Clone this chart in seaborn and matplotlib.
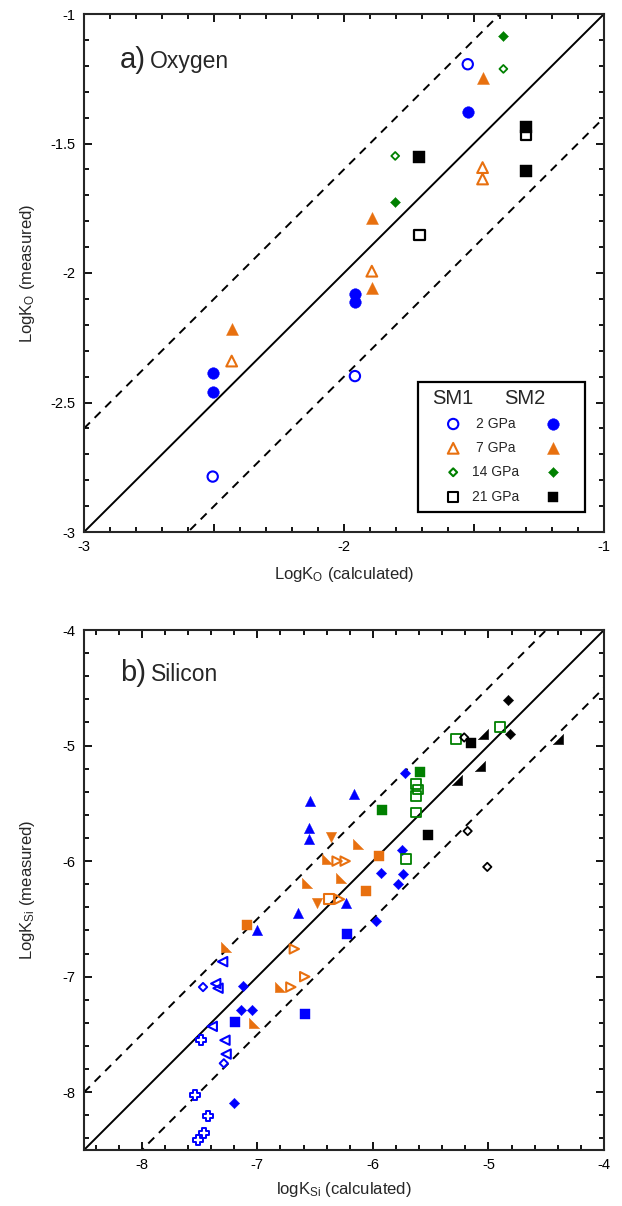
import numpy as np
import matplotlib
matplotlib.use("Agg")
import matplotlib.pyplot as plt
import seaborn as sns
from matplotlib.ticker import MultipleLocator, FuncFormatter
from matplotlib.patches import Rectangle

sns.set_style("ticks")
plt.rcParams["font.family"] = ["Liberation Sans", "DejaVu Sans"]
plt.rcParams["mathtext.fontset"] = "custom"
plt.rcParams["mathtext.rm"] = "Liberation Sans"
plt.rcParams["mathtext.it"] = "Liberation Sans:italic"
plt.rcParams["axes.unicode_minus"] = False

BLUE = "#0000FF"
ORANGE = "#E8700F"
GREEN = "#008000"
BLACK = "#000000"

# ---------------- Panel a data (Oxygen) ----------------
a_sm1_2gpa_x = [-1.524, -1.958, -2.505]
a_sm1_2gpa_y = [-1.194, -2.398, -2.786]
a_sm1_7gpa_x = [-1.467, -1.467, -1.893, -2.432]
a_sm1_7gpa_y = [-1.593, -1.637, -1.993, -2.340]
a_sm1_14gpa_x = [-1.387, -1.803]
a_sm1_14gpa_y = [-1.212, -1.548]
a_sm1_21gpa_x = [-1.300, -1.710]
a_sm1_21gpa_y = [-1.468, -1.852]

a_sm2_2gpa_x = [-1.524, -1.958, -1.958, -2.505, -2.505]
a_sm2_2gpa_y = [-1.378, -2.082, -2.111, -2.385, -2.458]
a_sm2_7gpa_x = [-1.467, -1.893, -1.893, -2.432]
a_sm2_7gpa_y = [-1.246, -1.789, -2.059, -2.216]
a_sm2_14gpa_x = [-1.387, -1.803]
a_sm2_14gpa_y = [-1.085, -1.725]
a_sm2_21gpa_x = [-1.300, -1.300, -1.710]
a_sm2_21gpa_y = [-1.435, -1.606, -1.551]

legend_labels = ["2 GPa", "7 GPa", "14 GPa", "21 GPa"]

# ---------------- Panel b data (Silicon) ----------------
b_blue_tri_x = [-6.54, -6.55, -6.55, -6.16, -6.23, -6.65, -7.00]
b_blue_tri_y = [-5.48, -5.71, -5.81, -5.42, -6.36, -6.45, -6.60]
b_blue_dia_x = [-5.72, -5.75, -5.93, -5.74, -5.78, -5.97, -7.12, -7.14, -7.05, -7.20]
b_blue_dia_y = [-5.24, -5.90, -6.10, -6.11, -6.20, -6.52, -7.08, -7.29, -7.29, -8.09]
b_blue_sq_x = [-6.22, -6.59, -7.19]
b_blue_sq_y = [-6.63, -7.32, -7.39]
b_blue_ltri_x = [-7.30, -7.36, -7.34, -7.39, -7.28, -7.27]
b_blue_ltri_y = [-6.87, -7.06, -7.10, -7.43, -7.55, -7.67]
b_blue_odia_x = [-7.47, -7.29]
b_blue_odia_y = [-7.09, -7.75]
b_blue_plus_x = [-7.49, -7.54, -7.43, -7.46, -7.51]
b_blue_plus_y = [-7.55, -8.02, -8.21, -8.35, -8.41]
b_blue_x_x = [-7.54]
b_blue_x_y = [-6.89]

b_or_plus_x = [-7.49]
b_or_plus_y = [-6.73]
b_or_rtri_x = [-7.27, -6.80, -7.03, -6.57, -6.40, -6.28, -6.13]
b_or_rtri_y = [-6.74, -7.09, -7.40, -6.19, -5.98, -6.15, -5.85]
b_or_dtri_x = [-6.36, -6.48]
b_or_dtri_y = [-5.79, -6.36]
b_or_sq_x = [-7.09, -6.06, -5.95]
b_or_sq_y = [-6.55, -6.26, -5.96]
b_or_otri_x = [-6.31, -6.24, -6.29, -6.68, -6.71, -6.59]
b_or_otri_y = [-6.00, -6.00, -6.33, -6.76, -7.09, -7.00]
b_or_osq_x = [-6.38]
b_or_osq_y = [-6.33]

b_gr_sq_x = [-5.59, -5.92]
b_gr_sq_y = [-5.23, -5.56]
b_gr_osq_x = [-5.28, -5.63, -5.61, -5.63, -5.63]
b_gr_osq_y = [-4.94, -5.33, -5.38, -5.44, -5.58]
b_gr_xsq_x = [-4.90, -5.71]
b_gr_xsq_y = [-4.84, -5.98]

b_bk_dia_x = [-4.83, -4.81]
b_bk_dia_y = [-4.61, -4.90]
b_bk_odia_x = [-5.21, -5.18, -5.01]
b_bk_odia_y = [-4.93, -5.74, -6.05]
b_bk_sq_x = [-5.15, -5.52]
b_bk_sq_y = [-4.98, -5.77]
b_bk_rtri_x = [-5.05, -4.40, -5.07, -5.27]
b_bk_rtri_y = [-4.90, -4.94, -5.18, -5.30]

# custom right-angle triangle markers
TRI_LL = [(-1, -1), (1, -1), (-1, 1), (-1, -1)]  # right angle bottom-left
TRI_LR = [(-1, -1), (1, -1), (1, 1), (-1, -1)]   # right angle bottom-right


def pts(ax, x, y, marker, color, filled=True, s=50, lw=1.3, face=None):
    if filled:
        sns.scatterplot(x=x, y=y, ax=ax, marker=marker, color=color,
                        edgecolor=color, s=s, linewidth=0.3, zorder=4)
    else:
        sns.scatterplot(x=x, y=y, ax=ax, marker=marker, color=color,
                        facecolor=face if face else "none", edgecolor=color,
                        s=s, linewidth=lw, zorder=4)


def style_axes(ax, major, minor):
    for sp in ax.spines.values():
        sp.set_linewidth(1.5)
        sp.set_visible(True)
    ax.xaxis.set_major_locator(MultipleLocator(major[0]))
    ax.yaxis.set_major_locator(MultipleLocator(major[1]))
    ax.xaxis.set_minor_locator(MultipleLocator(minor))
    ax.yaxis.set_minor_locator(MultipleLocator(minor))
    ax.tick_params(which="both", direction="in", top=True, right=True,
                   labelsize=10.5, width=1.3, pad=6, colors="black")
    ax.tick_params(which="major", length=6)
    ax.tick_params(which="minor", length=3.5)


fig = plt.figure(figsize=(6.22, 12.06), dpi=100)
axa = fig.add_axes([84 / 622, 1 - 532 / 1206, 520 / 622, 518 / 1206])
axb = fig.add_axes([84 / 622, 1 - 1150 / 1206, 520 / 622, 520 / 1206])

# ---------- Panel a ----------
lim = np.array([-3.0, -1.0])
axa.plot(lim, lim, color="black", lw=1.4, zorder=2)
axa.plot(lim, lim + 0.4, color="black", lw=1.4, dashes=(4.3, 3.4), zorder=2)
axa.plot(lim, lim - 0.4, color="black", lw=1.4, dashes=(4.3, 3.4), zorder=2)

pts(axa, a_sm1_2gpa_x, a_sm1_2gpa_y, "o", BLUE, False, s=55, lw=1.5)
pts(axa, a_sm1_7gpa_x, a_sm1_7gpa_y, "^", ORANGE, False, s=60, lw=1.5)
pts(axa, a_sm1_14gpa_x, a_sm1_14gpa_y, "D", GREEN, False, s=16, lw=1.3)
pts(axa, a_sm1_21gpa_x, a_sm1_21gpa_y, "s", BLACK, False, s=55, lw=1.6)
pts(axa, a_sm2_2gpa_x, a_sm2_2gpa_y, "o", BLUE, True, s=70)
pts(axa, a_sm2_7gpa_x, a_sm2_7gpa_y, "^", ORANGE, True, s=75)
pts(axa, a_sm2_14gpa_x, a_sm2_14gpa_y, "D", GREEN, True, s=26)
pts(axa, a_sm2_21gpa_x, a_sm2_21gpa_y, "s", BLACK, True, s=65)

axa.set_xlim(-3, -1)
axa.set_ylim(-3, -1)
style_axes(axa, (0.5, 0.5), 0.1)
axa.xaxis.set_major_formatter(FuncFormatter(
    lambda v, p: f"{v:g}" if abs(v - round(v)) < 1e-6 else ""))
axa.yaxis.set_major_formatter(FuncFormatter(lambda v, p: f"{v:g}"))
axa.set_xlabel(r"LogK$_\mathrm{O}$ (calculated)", fontsize=12)
axa.set_ylabel(r"LogK$_\mathrm{O}$ (measured)", fontsize=12)
axa.xaxis.set_label_coords(0.5, -0.064)
axa.yaxis.set_label_coords(-0.09, 0.5)
axa.text(0.069, 0.895, "a)", transform=axa.transAxes, fontsize=21, va="baseline")
axa.text(0.127, 0.895, "Oxygen", transform=axa.transAxes, fontsize=16.5, va="baseline")

# legend box (manual)
axa.add_patch(Rectangle((0.642, 0.0386), 0.321, 0.251, transform=axa.transAxes,
                        fill=True, facecolor="white", edgecolor="black", lw=1.6, zorder=5))
axa.text(0.7085, 0.257, "SM1", transform=axa.transAxes, fontsize=14.5,
         ha="center", va="center", zorder=6)
axa.text(0.8475, 0.257, "SM2", transform=axa.transAxes, fontsize=14.5,
         ha="center", va="center", zorder=6)
row_y = [0.2085, 0.1616, 0.1153, 0.067]
leg_markers = [("o", BLUE, 55, 70), ("^", ORANGE, 60, 75), ("D", GREEN, 16, 26), ("s", BLACK, 50, 60)]
for yy, lab, (mk, col, so, sf) in zip(row_y, legend_labels, leg_markers):
    axa.scatter([0.710], [yy], marker=mk, s=so, facecolor="none", edgecolor=col,
                linewidth=1.5, transform=axa.transAxes, zorder=6, clip_on=False)
    axa.scatter([0.9025], [yy], marker=mk, s=sf, facecolor=col, edgecolor=col,
                linewidth=0.3, transform=axa.transAxes, zorder=6, clip_on=False)
    axa.text(0.791, yy, lab, transform=axa.transAxes, fontsize=10,
             ha="center", va="center", zorder=6)

# ---------- Panel b ----------
limb = np.array([-8.5, -4.0])
axb.plot(limb, limb, color="black", lw=1.4, zorder=2)
axb.plot(limb, limb + 0.5, color="black", lw=1.4, dashes=(4.3, 3.4), zorder=2)
axb.plot(limb, limb - 0.5, color="black", lw=1.4, dashes=(4.3, 3.4), zorder=2)

pts(axb, b_blue_tri_x, b_blue_tri_y, "^", BLUE, True, s=55)
pts(axb, b_blue_dia_x, b_blue_dia_y, "D", BLUE, True, s=28)
pts(axb, b_blue_sq_x, b_blue_sq_y, "s", BLUE, True, s=55)
pts(axb, b_blue_ltri_x, b_blue_ltri_y, "<", BLUE, False, s=45, lw=1.5)
pts(axb, b_blue_odia_x, b_blue_odia_y, "D", BLUE, False, s=18, lw=1.4)
pts(axb, b_blue_plus_x, b_blue_plus_y, "P", BLUE, False, s=55, lw=1.4, face="white")
pts(axb, b_blue_x_x, b_blue_x_y, "x", BLUE, False, s=50, lw=1.3)

pts(axb, b_or_plus_x, b_or_plus_y, "+", ORANGE, False, s=50, lw=1.2)
pts(axb, b_or_rtri_x, b_or_rtri_y, TRI_LL, ORANGE, True, s=55)
pts(axb, b_or_dtri_x, b_or_dtri_y, "v", ORANGE, True, s=55)
pts(axb, b_or_sq_x, b_or_sq_y, "s", ORANGE, True, s=55)
pts(axb, b_or_otri_x, b_or_otri_y, ">", ORANGE, False, s=45, lw=1.5)
pts(axb, b_or_osq_x, b_or_osq_y, "s", ORANGE, False, s=50, lw=1.5)

pts(axb, b_gr_sq_x, b_gr_sq_y, "s", GREEN, True, s=62)
pts(axb, b_gr_osq_x, b_gr_osq_y, "s", GREEN, False, s=50, lw=1.3)
pts(axb, b_gr_xsq_x, b_gr_xsq_y, "s", GREEN, False, s=50, lw=1.3)
pts(axb, b_gr_xsq_x, b_gr_xsq_y, "x", GREEN, False, s=22, lw=1.1)

pts(axb, b_bk_dia_x, b_bk_dia_y, "D", BLACK, True, s=28)
pts(axb, b_bk_odia_x, b_bk_odia_y, "D", BLACK, False, s=18, lw=1.3)
pts(axb, b_bk_sq_x, b_bk_sq_y, "s", BLACK, True, s=62)
pts(axb, b_bk_rtri_x, b_bk_rtri_y, TRI_LR, BLACK, True, s=55)

axb.set_xlim(-8.5, -4)
axb.set_ylim(-8.5, -4)
style_axes(axb, (1, 1), 0.2)
axb.xaxis.set_major_formatter(FuncFormatter(lambda v, p: f"{v:g}"))
axb.yaxis.set_major_formatter(FuncFormatter(lambda v, p: f"{v:g}"))
axb.set_xlabel(r"logK$_\mathrm{Si}$ (calculated)", fontsize=12)
axb.set_ylabel(r"LogK$_\mathrm{Si}$ (measured)", fontsize=12)
axb.xaxis.set_label_coords(0.5, -0.058)
axb.yaxis.set_label_coords(-0.09, 0.5)
axb.text(0.069, 0.902, "b)", transform=axb.transAxes, fontsize=21, va="baseline")
axb.text(0.128, 0.902, "Silicon", transform=axb.transAxes, fontsize=16.5, va="baseline")

fig.savefig("out.png", dpi=100)
